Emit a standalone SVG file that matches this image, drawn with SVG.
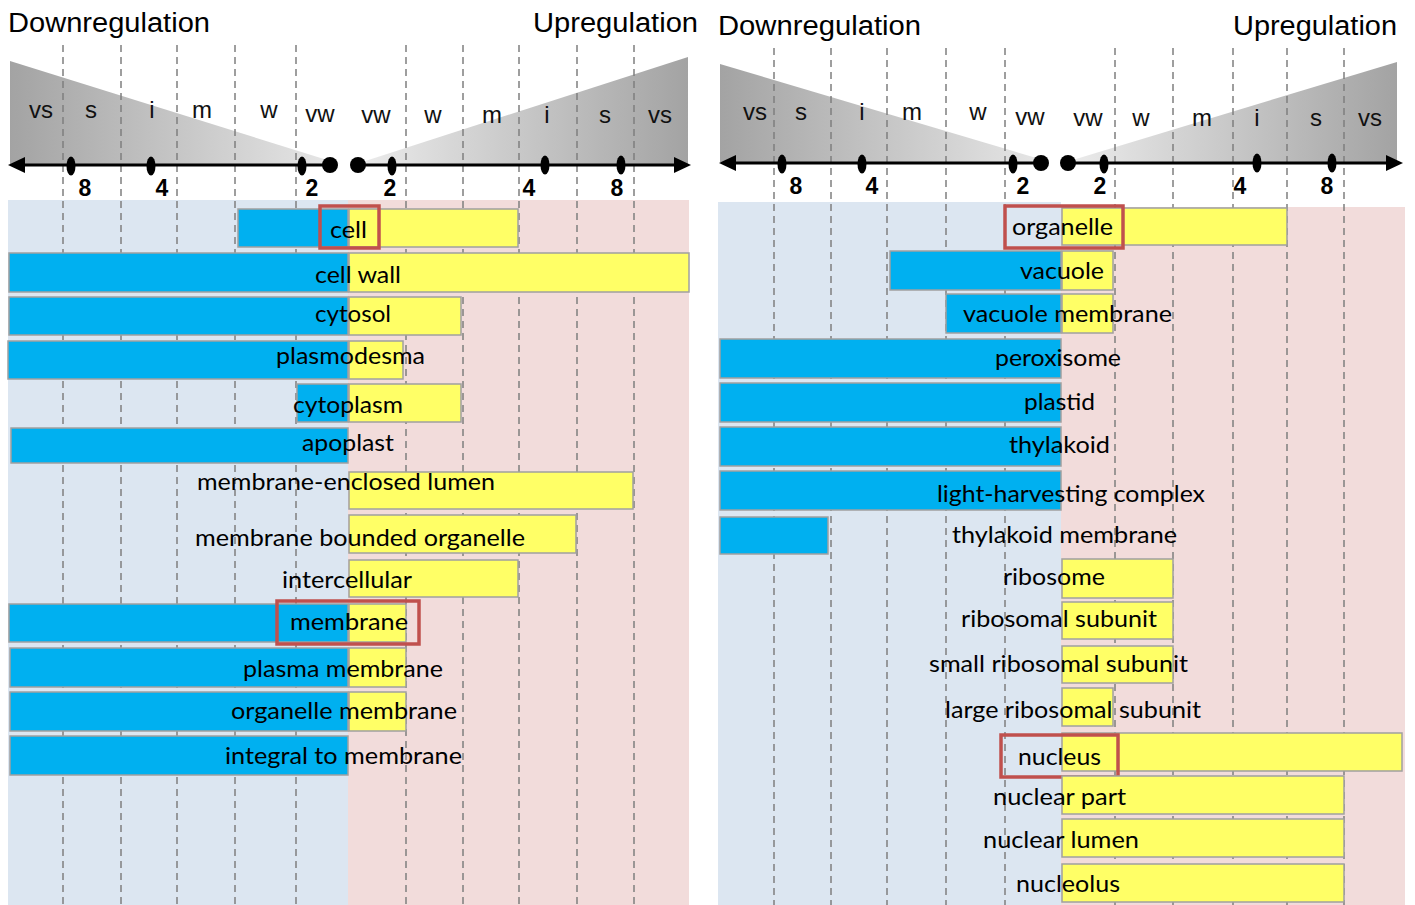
<svg xmlns="http://www.w3.org/2000/svg" width="1415" height="905" viewBox="0 0 1415 905">
<defs>
<linearGradient id="gDown" x1="0" y1="0" x2="1" y2="0"><stop offset="0" stop-color="#a3a3a3"/><stop offset="1" stop-color="#e8e8e8"/></linearGradient>
<linearGradient id="gUp" x1="0" y1="0" x2="1" y2="0"><stop offset="0" stop-color="#ececec"/><stop offset="1" stop-color="#a3a3a3"/></linearGradient>
<style>
.bgb{fill:#dce6f1}
.bgp{fill:#f2dcdb}
.dash{stroke:#7f7f7f;stroke-width:1.5;stroke-dasharray:7 5;fill:none}
.ax{stroke:#000;stroke-width:3;fill:none}
.dot{fill:#000}
.hd{font-family:"Liberation Sans",Arial,sans-serif;font-size:27px;fill:#000}
.lv{font-family:"Liberation Sans",Arial,sans-serif;font-size:24px;fill:#111;text-anchor:middle}
.num{font-family:"Liberation Sans",Arial,sans-serif;font-size:23px;font-weight:bold;fill:#000;text-anchor:middle}
.bb{fill:#00b0f0;stroke:#a0a0a0;stroke-width:1.5}
.by{fill:#ffff66;stroke:#a0a0a0;stroke-width:1.5}
.t{font-family:Lato,"Open Sans",sans-serif;font-size:24px;fill:#000}
.rb{fill:none;stroke:#c0504d;stroke-width:3.5}
</style>
</defs>
<rect width="1415" height="905" fill="#fff"/>
<g id="backgrounds">
<rect class="bgb" x="8" y="200" width="340" height="705"/>
<rect class="bgp" x="348" y="200" width="341" height="705"/>
<rect class="bgb" x="718" y="202" width="343" height="703"/>
<rect class="bgp" x="1061" y="207" width="344" height="698"/>
</g>
<g id="scale-left">
<text class="hd" x="8" y="32" textLength="202" lengthAdjust="spacingAndGlyphs">Downregulation</text>
<text class="hd" x="533" y="32" textLength="165" lengthAdjust="spacingAndGlyphs">Upregulation</text>
<polygon points="10,61 340,164 10,164" fill="url(#gDown)"/>
<polygon points="356,164 688,57 688,164" fill="url(#gUp)"/>
</g>
<g id="scale-right">
<text class="hd" x="718" y="35" textLength="203" lengthAdjust="spacingAndGlyphs">Downregulation</text>
<text class="hd" x="1233" y="35" textLength="164" lengthAdjust="spacingAndGlyphs">Upregulation</text>
<polygon points="720,64 1050,162 720,162" fill="url(#gDown)"/>
<polygon points="1066,162 1397,62 1397,162" fill="url(#gUp)"/>
</g>
<g id="gridlines">
<line class="dash" x1="63" y1="45" x2="63" y2="905"/>
<line class="dash" x1="121" y1="45" x2="121" y2="905"/>
<line class="dash" x1="177" y1="45" x2="177" y2="905"/>
<line class="dash" x1="235" y1="45" x2="235" y2="905"/>
<line class="dash" x1="296" y1="45" x2="296" y2="905"/>
<line class="dash" x1="406" y1="45" x2="406" y2="905"/>
<line class="dash" x1="463" y1="45" x2="463" y2="905"/>
<line class="dash" x1="519" y1="45" x2="519" y2="905"/>
<line class="dash" x1="577" y1="45" x2="577" y2="905"/>
<line class="dash" x1="634" y1="45" x2="634" y2="905"/>
<line class="dash" x1="774" y1="48" x2="774" y2="905"/>
<line class="dash" x1="831" y1="48" x2="831" y2="905"/>
<line class="dash" x1="887" y1="48" x2="887" y2="905"/>
<line class="dash" x1="946" y1="48" x2="946" y2="905"/>
<line class="dash" x1="1005" y1="48" x2="1005" y2="905"/>
<line class="dash" x1="1115" y1="48" x2="1115" y2="905"/>
<line class="dash" x1="1173" y1="48" x2="1173" y2="905"/>
<line class="dash" x1="1233" y1="48" x2="1233" y2="905"/>
<line class="dash" x1="1287" y1="48" x2="1287" y2="905"/>
<line class="dash" x1="1344" y1="48" x2="1344" y2="905"/>
</g>
<g id="axis-left">
<line class="ax" x1="22" y1="165" x2="330" y2="165"/>
<polygon class="dot" points="8,165 25,157 25,173"/>
<circle class="dot" cx="330" cy="165" r="8"/>
<line class="ax" x1="358" y1="165" x2="676" y2="165"/>
<polygon class="dot" points="691,165 674,157 674,173"/>
<circle class="dot" cx="358" cy="165" r="8"/>
<ellipse class="dot" cx="71" cy="166" rx="4.5" ry="9.5"/>
<ellipse class="dot" cx="151" cy="166" rx="4.5" ry="9.5"/>
<ellipse class="dot" cx="302" cy="166" rx="4.5" ry="9.5"/>
<ellipse class="dot" cx="392" cy="166" rx="4.5" ry="9.5"/>
<ellipse class="dot" cx="545" cy="165" rx="4.5" ry="9.5"/>
<ellipse class="dot" cx="621" cy="165" rx="4.5" ry="9.5"/>
<text class="num" x="85" y="196">8</text>
<text class="num" x="162" y="196">4</text>
<text class="num" x="312" y="196">2</text>
<text class="num" x="390" y="196">2</text>
<text class="num" x="529" y="196">4</text>
<text class="num" x="617" y="196">8</text>
<text class="lv" x="41" y="118">vs</text>
<text class="lv" x="91" y="118">s</text>
<text class="lv" x="152" y="118">i</text>
<text class="lv" x="202" y="118">m</text>
<text class="lv" x="269" y="118">w</text>
<text class="lv" x="320" y="122">vw</text>
<text class="lv" x="376" y="123">vw</text>
<text class="lv" x="433" y="123">w</text>
<text class="lv" x="492" y="123">m</text>
<text class="lv" x="547" y="123">i</text>
<text class="lv" x="605" y="123">s</text>
<text class="lv" x="660" y="123">vs</text>
</g>
<g id="axis-right">
<line class="ax" x1="734" y1="163" x2="1041" y2="163"/>
<polygon class="dot" points="719,163 736,155 736,171"/>
<circle class="dot" cx="1041" cy="163" r="8"/>
<line class="ax" x1="1068" y1="163" x2="1388" y2="163"/>
<polygon class="dot" points="1403,163 1386,155 1386,171"/>
<circle class="dot" cx="1068" cy="163" r="8"/>
<ellipse class="dot" cx="782" cy="164" rx="4.5" ry="9.5"/>
<ellipse class="dot" cx="862" cy="164" rx="4.5" ry="9.5"/>
<ellipse class="dot" cx="1013" cy="164" rx="4.5" ry="9.5"/>
<ellipse class="dot" cx="1104" cy="164" rx="4.5" ry="9.5"/>
<ellipse class="dot" cx="1257" cy="163" rx="4.5" ry="9.5"/>
<ellipse class="dot" cx="1332" cy="163" rx="4.5" ry="9.5"/>
<text class="num" x="796" y="194">8</text>
<text class="num" x="872" y="194">4</text>
<text class="num" x="1023" y="194">2</text>
<text class="num" x="1100" y="194">2</text>
<text class="num" x="1240" y="194">4</text>
<text class="num" x="1327" y="194">8</text>
<text class="lv" x="755" y="120">vs</text>
<text class="lv" x="801" y="120">s</text>
<text class="lv" x="862" y="120">i</text>
<text class="lv" x="912" y="120">m</text>
<text class="lv" x="978" y="120">w</text>
<text class="lv" x="1030" y="125">vw</text>
<text class="lv" x="1088" y="126">vw</text>
<text class="lv" x="1141" y="126">w</text>
<text class="lv" x="1202" y="126">m</text>
<text class="lv" x="1257" y="126">i</text>
<text class="lv" x="1316" y="126">s</text>
<text class="lv" x="1370" y="126">vs</text>
</g>
<g id="row-cell"><rect class="bb" x="238" y="209" width="110" height="38"/><rect class="by" x="349" y="209" width="169" height="38"/><text class="t" x="330" y="238" textLength="37" lengthAdjust="spacingAndGlyphs">cell</text><rect class="rb" x="320" y="206" width="59" height="42"/></g>
<g id="row-cell-wall"><rect class="bb" x="9" y="253" width="339" height="39"/><rect class="by" x="349" y="253" width="340" height="39"/><text class="t" x="315" y="283" textLength="86" lengthAdjust="spacingAndGlyphs">cell wall</text></g>
<g id="row-cytosol"><rect class="bb" x="9" y="297" width="339" height="38"/><rect class="by" x="349" y="297" width="112" height="38"/><text class="t" x="315" y="322" textLength="76" lengthAdjust="spacingAndGlyphs">cytosol</text></g>
<g id="row-plasmodesma"><rect class="bb" x="8" y="341" width="340" height="38"/><rect class="by" x="349" y="341" width="54" height="38"/><text class="t" x="276" y="364" textLength="149" lengthAdjust="spacingAndGlyphs">plasmodesma</text></g>
<g id="row-cytoplasm"><rect class="bb" x="297" y="384" width="51" height="38"/><rect class="by" x="349" y="384" width="112" height="38"/><text class="t" x="293" y="413" textLength="110" lengthAdjust="spacingAndGlyphs">cytoplasm</text></g>
<g id="row-apoplast"><rect class="bb" x="11" y="428" width="337" height="35"/><text class="t" x="302" y="451" textLength="92" lengthAdjust="spacingAndGlyphs">apoplast</text></g>
<g id="row-membrane-enclosed-lumen"><rect class="by" x="349" y="472" width="284" height="37"/><text class="t" x="197" y="490" textLength="298" lengthAdjust="spacingAndGlyphs">membrane-enclosed lumen</text></g>
<g id="row-membrane-bounded-organelle"><rect class="by" x="349" y="515" width="227" height="38"/><text class="t" x="195" y="546" textLength="330" lengthAdjust="spacingAndGlyphs">membrane bounded organelle</text></g>
<g id="row-intercellular"><rect class="by" x="349" y="560" width="169" height="37"/><text class="t" x="282" y="588" textLength="130" lengthAdjust="spacingAndGlyphs">intercellular</text></g>
<g id="row-membrane"><rect class="bb" x="9" y="604" width="339" height="38"/><rect class="by" x="349" y="604" width="57" height="38"/><text class="t" x="290" y="630" textLength="118" lengthAdjust="spacingAndGlyphs">membrane</text><rect class="rb" x="277" y="601" width="142" height="43"/></g>
<g id="row-plasma-membrane"><rect class="bb" x="10" y="648" width="338" height="39"/><rect class="by" x="349" y="648" width="57" height="39"/><text class="t" x="243" y="677" textLength="200" lengthAdjust="spacingAndGlyphs">plasma membrane</text></g>
<g id="row-organelle-membrane"><rect class="bb" x="10" y="692" width="338" height="39"/><rect class="by" x="349" y="692" width="57" height="39"/><text class="t" x="231" y="719" textLength="226" lengthAdjust="spacingAndGlyphs">organelle membrane</text></g>
<g id="row-integral-to-membrane"><rect class="bb" x="10" y="736" width="338" height="39"/><text class="t" x="225" y="764" textLength="237" lengthAdjust="spacingAndGlyphs">integral to membrane</text></g>
<g id="row-organelle"><rect class="by" x="1062" y="208" width="225" height="37"/><text class="t" x="1012" y="235" textLength="101" lengthAdjust="spacingAndGlyphs">organelle</text><rect class="rb" x="1005" y="206" width="118" height="42"/></g>
<g id="row-vacuole"><rect class="bb" x="890" y="251" width="171" height="39"/><rect class="by" x="1062" y="251" width="51" height="39"/><text class="t" x="1020" y="279" textLength="84" lengthAdjust="spacingAndGlyphs">vacuole</text></g>
<g id="row-vacuole-membrane"><rect class="bb" x="946" y="294" width="115" height="39"/><rect class="by" x="1062" y="294" width="51" height="39"/><text class="t" x="963" y="322" textLength="209" lengthAdjust="spacingAndGlyphs">vacuole membrane</text></g>
<g id="row-peroxisome"><rect class="bb" x="720" y="339" width="341" height="39"/><text class="t" x="995" y="366" textLength="126" lengthAdjust="spacingAndGlyphs">peroxisome</text></g>
<g id="row-plastid"><rect class="bb" x="720" y="383" width="341" height="39"/><text class="t" x="1024" y="410" textLength="71" lengthAdjust="spacingAndGlyphs">plastid</text></g>
<g id="row-thylakoid"><rect class="bb" x="720" y="427" width="341" height="39"/><text class="t" x="1009" y="453" textLength="101" lengthAdjust="spacingAndGlyphs">thylakoid</text></g>
<g id="row-light-harvesting-complex"><rect class="bb" x="720" y="471" width="341" height="39"/><text class="t" x="937" y="502" textLength="268" lengthAdjust="spacingAndGlyphs">light-harvesting complex</text></g>
<g id="row-thylakoid-membrane"><rect class="bb" x="720" y="517" width="108" height="37"/><text class="t" x="952" y="543" textLength="225" lengthAdjust="spacingAndGlyphs">thylakoid membrane</text></g>
<g id="row-ribosome"><rect class="by" x="1062" y="559" width="111" height="39"/><text class="t" x="1003" y="585" textLength="102" lengthAdjust="spacingAndGlyphs">ribosome</text></g>
<g id="row-ribosomal-subunit"><rect class="by" x="1062" y="602" width="111" height="37"/><text class="t" x="961" y="627" textLength="196" lengthAdjust="spacingAndGlyphs">ribosomal subunit</text></g>
<g id="row-small-ribosomal-subunit"><rect class="by" x="1062" y="646" width="111" height="37"/><text class="t" x="929" y="672" textLength="259" lengthAdjust="spacingAndGlyphs">small ribosomal subunit</text></g>
<g id="row-large-ribosomal-subunit"><rect class="by" x="1062" y="688" width="51" height="38"/><text class="t" x="945" y="718" textLength="256" lengthAdjust="spacingAndGlyphs">large ribosomal subunit</text></g>
<g id="row-nucleus"><rect class="by" x="1062" y="733" width="340" height="38"/><text class="t" x="1018" y="765" textLength="83" lengthAdjust="spacingAndGlyphs">nucleus</text><rect class="rb" x="1001" y="735" width="117" height="42"/></g>
<g id="row-nuclear-part"><rect class="by" x="1062" y="776" width="282" height="38"/><text class="t" x="993" y="805" textLength="133" lengthAdjust="spacingAndGlyphs">nuclear part</text></g>
<g id="row-nuclear-lumen"><rect class="by" x="1062" y="819" width="282" height="38"/><text class="t" x="983" y="848" textLength="156" lengthAdjust="spacingAndGlyphs">nuclear lumen</text></g>
<g id="row-nucleolus"><rect class="by" x="1062" y="864" width="282" height="38"/><text class="t" x="1016" y="892" textLength="104" lengthAdjust="spacingAndGlyphs">nucleolus</text></g>
</svg>
